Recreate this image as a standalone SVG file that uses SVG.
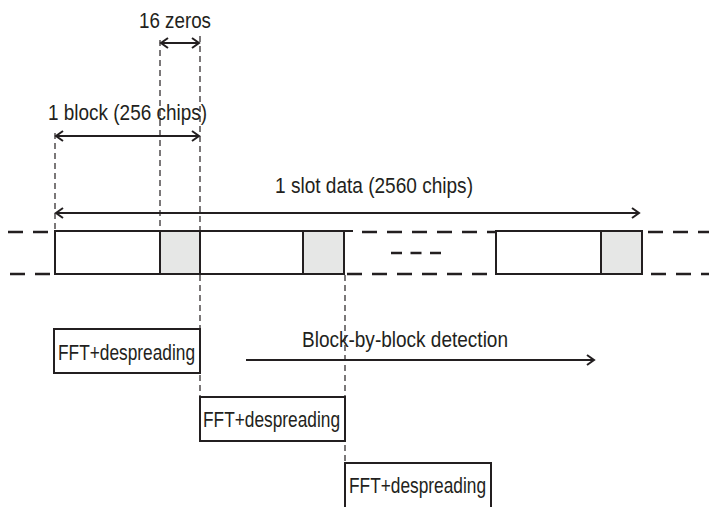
<svg xmlns="http://www.w3.org/2000/svg" width="709" height="507" viewBox="0 0 709 507">
<style>
text{font-family:"Liberation Sans",Arial,sans-serif;font-size:22px;fill:#231f20}
.dv{stroke:#231f20;stroke-width:1.2;stroke-dasharray:6 4;fill:none}
.dh{stroke:#231f20;stroke-width:2.5;stroke-dasharray:15 10;fill:none}
.box{stroke:#231f20;stroke-width:2;fill:#fff}
.gray{stroke:#231f20;stroke-width:2;fill:#e6e7e6}
.arr{stroke:#231f20;stroke-width:2;fill:none}
.ah{stroke:#231f20;stroke-width:2;fill:none;stroke-linejoin:miter}
</style>
<rect width="709" height="507" fill="#fff"/>
<g id="connectors">
<line class="dv" x1="55" y1="133" x2="55" y2="231"/>
<line class="dv" x1="160" y1="40" x2="160" y2="231"/>
<line class="dv" x1="200" y1="36" x2="200" y2="231"/>
<line class="dv" x1="200" y1="275" x2="200" y2="441"/>
<line class="dv" x1="345" y1="275" x2="345" y2="463"/>
<line class="dh" x1="8" y1="232" x2="50" y2="232"/>
<line class="dh" x1="10" y1="274" x2="52" y2="274"/>
<line class="dh" x1="362" y1="232" x2="496" y2="232"/>
<line class="dh" x1="347" y1="274" x2="496" y2="274"/>
<line class="dh" x1="391" y1="253" x2="441" y2="253" style="stroke-dasharray:11 8.5"/>
<line class="dh" x1="648" y1="232" x2="709" y2="232"/>
<line class="dh" x1="651" y1="274" x2="709" y2="274"/>
<line stroke="#231f20" stroke-width="2" x1="344" y1="231" x2="353" y2="231"/>
<line class="arr" x1="161" y1="43" x2="199" y2="43"/>
<polyline class="ah" points="168,38 161,43 168,48"/>
<polyline class="ah" points="192,38 199,43 192,48"/>
<line class="arr" x1="56" y1="136" x2="199" y2="136"/>
<polyline class="ah" points="63,131 56,136 63,141"/>
<polyline class="ah" points="192,131 199,136 192,141"/>
<line class="arr" x1="56" y1="213" x2="639" y2="213"/>
<polyline class="ah" points="63,208 56,213 63,218"/>
<polyline class="ah" points="632,208 639,213 632,218"/>
<line class="arr" x1="246" y1="360" x2="594" y2="360"/>
<polyline class="ah" points="587,355 594,360 587,365"/>
</g>
<g id="block1">
<rect class="box" x="55" y="231" width="105" height="43"/>
<rect class="gray" x="160" y="231" width="40" height="43"/>
</g>
<g id="block2">
<rect class="box" x="200" y="231" width="103" height="43"/>
<rect class="gray" x="303" y="231" width="41" height="43"/>
</g>
<g id="block3">
<rect class="box" x="496" y="231" width="105" height="43"/>
<rect class="gray" x="601" y="231" width="41" height="43"/>
</g>
<g id="labels">
<text x="139" y="28" textLength="72" lengthAdjust="spacingAndGlyphs">16 zeros</text>
<text x="48" y="120" textLength="159" lengthAdjust="spacingAndGlyphs">1 block (256 chips)</text>
<text x="275" y="193" textLength="198" lengthAdjust="spacingAndGlyphs">1 slot data (2560 chips)</text>
<text x="302" y="347" textLength="206" lengthAdjust="spacingAndGlyphs">Block-by-block detection</text>
</g>
<g id="fft1">
<rect class="box" x="54" y="329" width="146" height="44"/>
<text x="58" y="360" textLength="137" lengthAdjust="spacingAndGlyphs">FFT+despreading</text>
</g>
<g id="fft2">
<rect class="box" x="200" y="397" width="145" height="44"/>
<text x="203" y="427" textLength="137" lengthAdjust="spacingAndGlyphs">FFT+despreading</text>
</g>
<g id="fft3">
<polyline fill="none" stroke="#231f20" stroke-width="2" points="345,507 345,463 491,463 491,507"/>
<text x="349" y="493" textLength="137" lengthAdjust="spacingAndGlyphs">FFT+despreading</text>
</g>
</svg>
